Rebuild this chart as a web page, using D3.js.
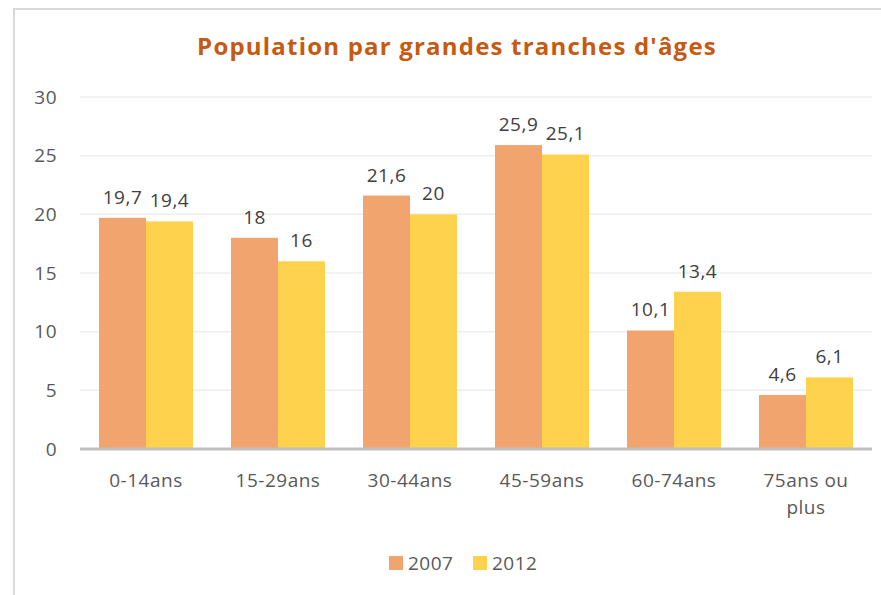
<!DOCTYPE html>
<html>
<head>
<meta charset="utf-8">
<script src="https://cdn.jsdelivr.net/npm/d3@7"></script>
<style>
  html, body { margin: 0; padding: 0; background: #fff; }
  svg { display: block; font-family: "Open Sans", Lato, sans-serif; }
</style>
</head>
<body>
<svg id="chart" width="881" height="595"></svg>
<script>
// Population par grandes tranches d'âges – grouped bars 2007 / 2012

const categories = ["0-14ans", "15-29ans", "30-44ans", "45-59ans", "60-74ans", "75ans ou plus"];
const seriesNames = ["2007", "2012"];
const values2007 = [19.7, 18, 21.6, 25.9, 10.1, 4.6];
const values2012 = [19.4, 16, 20, 25.1, 13.4, 6.1];
const yTicks = [0, 5, 10, 15, 20, 25, 30];

const colors = { "2007": "#F1A46E", "2012": "#FED24D" };
const LABEL_SIZE = 19;
const LABEL_SPACING = 0.5;

const svg = d3.select("#chart");

// frame (only top and left edges are visible in the picture)
svg.append("path")
  .attr("d", "M14,595 V9 H881")
  .attr("fill", "none")
  .attr("stroke", "#d9d9d9")
  .attr("stroke-width", 2);

// title
svg.append("text")
  .attr("x", 457).attr("y", 55)
  .attr("text-anchor", "middle")
  .attr("fill", "#C55A11")
  .attr("font-size", 24)
  .attr("letter-spacing", 1.2)
  .attr("font-weight", "bold")
  .text("Population par grandes tranches d'âges");

const margin = { top: 97, left: 80 };
const innerWidth = 792;
const innerHeight = 352;

const g = svg.append("g").attr("transform", `translate(${margin.left},${margin.top})`);

const x0 = d3.scaleBand().domain(categories).range([0, innerWidth]).paddingInner(0.288).paddingOuter(0.144);
const x1 = d3.scaleBand().domain(seriesNames).range([0, x0.bandwidth()]);
const y = d3.scaleLinear().domain([0, 30]).range([innerHeight, 0]);

// gridlines
g.selectAll(".grid")
  .data(yTicks.filter((t) => t > 0))
  .join("line")
  .attr("class", "grid")
  .attr("x1", 0).attr("x2", innerWidth)
  .attr("y1", (d) => y(d)).attr("y2", (d) => y(d))
  .attr("stroke", "#eeeeee")
  .attr("stroke-width", 1.5);

// y axis labels
const yAxis = d3.axisLeft(y).tickValues(yTicks).tickSize(0).tickPadding(23);
const yAxisG = g.append("g")
  .call(yAxis)
  .attr("font-size", LABEL_SIZE)
  .attr("font-family", "'Open Sans', sans-serif");
yAxisG.select(".domain").remove();
yAxisG.selectAll("text")
  .attr("fill", "#595959")
  .attr("letter-spacing", LABEL_SPACING);

const rows = categories.map((c, i) => ({ cat: c, "2007": values2007[i], "2012": values2012[i] }));

const groups = g.selectAll(".grp")
  .data(rows)
  .join("g")
  .attr("class", "grp")
  .attr("transform", (d) => `translate(${x0(d.cat)},0)`);

groups.selectAll("rect")
  .data((d) => seriesNames.map((s) => ({ key: s, value: d[s] })))
  .join("rect")
  .attr("x", (d) => x1(d.key))
  .attr("y", (d) => y(d.value))
  .attr("width", x1.bandwidth())
  .attr("height", (d) => innerHeight - y(d.value))
  .attr("fill", (d) => colors[d.key]);

groups.selectAll(".val")
  .data((d) => seriesNames.map((s) => ({ key: s, value: d[s] })))
  .join("text")
  .attr("class", "val")
  .attr("x", (d) => x1(d.key) + x1.bandwidth() / 2)
  .attr("y", (d) => y(d.value) - 14)
  .attr("text-anchor", "middle")
  .attr("fill", "#404040")
  .attr("font-size", LABEL_SIZE)
  .attr("letter-spacing", LABEL_SPACING)
  .text((d) => String(d.value).replace(".", ","));

// x axis
const xAxisG = g.append("g").attr("transform", `translate(0,${innerHeight})`);
xAxisG.append("line")
  .attr("x1", 0).attr("x2", innerWidth)
  .attr("stroke", "#bfbfbf")
  .attr("stroke-width", 3);

const xLabelLines = { "75ans ou plus": ["75ans ou", "plus"] };
categories.forEach((c) => {
  const lines = xLabelLines[c] || [c];
  const cx = x0(c) + x0.bandwidth() / 2;
  lines.forEach((l, i) => {
    xAxisG.append("text")
      .attr("x", cx)
      .attr("y", 38 + i * 27)
      .attr("text-anchor", "middle")
      .attr("fill", "#595959")
      .attr("font-size", LABEL_SIZE)
      .attr("letter-spacing", LABEL_SPACING)
      .text(l);
  });
});

// legend
const legend = svg.append("g").attr("transform", "translate(389,556)");
const legendItems = [
  { key: "2007", x: 0 },
  { key: "2012", x: 84 }
];
legendItems.forEach((it) => {
  legend.append("rect")
    .attr("x", it.x).attr("y", 0)
    .attr("width", 14).attr("height", 14)
    .attr("fill", colors[it.key]);
  legend.append("text")
    .attr("x", it.x + 19).attr("y", 14)
    .attr("fill", "#595959")
    .attr("font-size", LABEL_SIZE)
    .attr("letter-spacing", LABEL_SPACING)
    .text(it.key);
});
</script>
</body>
</html>
